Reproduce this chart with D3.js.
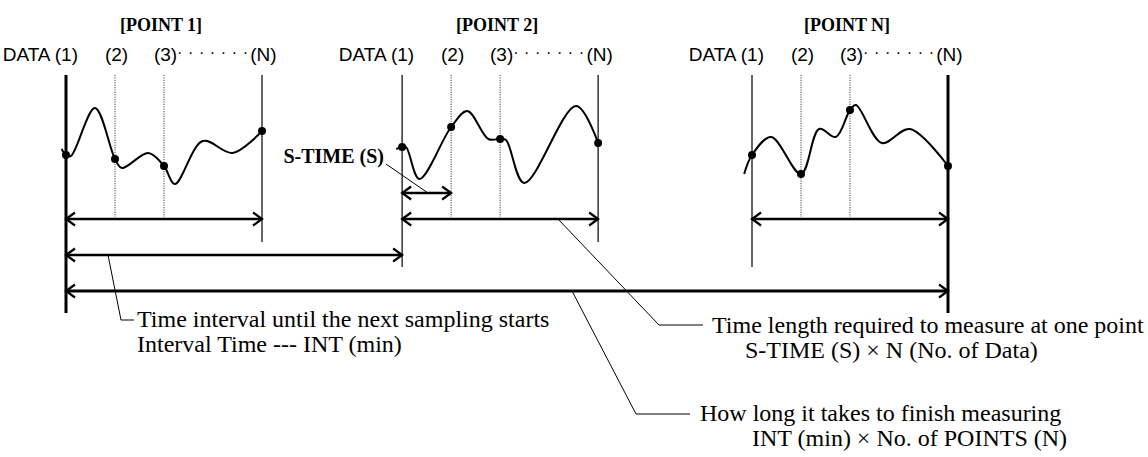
<!DOCTYPE html>
<html>
<head>
<meta charset="utf-8">
<script src="https://cdn.jsdelivr.net/npm/d3@7"></script>
<style>
    body { margin: 0; background: #fff; }
    .serif { font-family: "Liberation Serif", "Times New Roman", serif; }
    .narrow { font-family: "Liberation Sans Narrow", "Arial Narrow", "Liberation Sans", sans-serif; }
</style>
</head>
<body>
<script>
// points and where each one starts on the time axis (in S-TIME units)
const pointNames = ['[POINT 1]', '[POINT 2]', '[POINT N]'];
const pointStarts = [0, 6.86, 14];
const pointLength = 4;

// sample lines inside one point
const sampleLabels = ['(1)', '(2)', '(3)', '(N)'];
const sampleOffsets = [0, 1, 2, 4];

// waveforms: time offset inside the point, signal level
const wave1T = [-0.09, 0, 0.1, 0.59, 1.0, 1.14, 1.68, 2.0, 2.22, 2.79, 3.4, 4.0];
const wave1V = [5.1, 4.5, 4.4, 9.2, 4.1, 3.2, 4.7, 3.4, 1.6, 5.9, 4.7, 6.9];
const wave2T = [-0.12, 0, 0.08, 0.35, 1.0, 1.33, 1.76, 2.0, 2.12, 2.49, 3.55, 4.0];
const wave2V = [5.1, 5.3, 5.3, 2.1, 7.3, 8.9, 6.1, 6.1, 6.0, 1.7, 9.4, 5.7];
const waveNT = [-0.16, 0, 0.39, 1.0, 1.37, 1.71, 2.0, 2.12, 2.65, 3.22, 4.0];
const waveNV = [2.6, 4.5, 6.3, 2.6, 7.1, 6.3, 9.0, 9.5, 5.7, 7.1, 3.4];

// annotation texts
const intText = ['Time interval until the next sampling starts', 'Interval Time --- INT (min)'];
const pointText = ['Time length required to measure at one point', 'S-TIME (S) \u00d7 N (No. of Data)'];
const totalText = ['How long it takes to finish measuring', 'INT (min) \u00d7 No. of POINTS (N)'];

const waves = [
    { t: wave1T, v: wave1V },
    { t: wave2T, v: wave2V },
    { t: waveNT, v: waveNV }
];

const width = 1148, height = 457;

const svg = d3.select('body').append('svg')
    .attr('width', width)
    .attr('height', height);

// time axis -> pixels, level -> pixels
const x = d3.scaleLinear().domain([0, 18]).range([66, 948]);
const y = d3.scaleLinear().domain([0, 10]).range([200, 100]);

// arrowhead markers (open chevrons)
const defs = svg.append('defs');
defs.append('marker')
    .attr('id', 'head')
    .attr('viewBox', '-12 -8 14 16')
    .attr('refX', 0)
    .attr('refY', 0)
    .attr('markerUnits', 'userSpaceOnUse')
    .attr('markerWidth', 14)
    .attr('markerHeight', 16)
    .attr('orient', 'auto-start-reverse')
    .append('path')
    .attr('d', 'M-9,-6.5 L0,0 L-9,6.5')
    .attr('fill', 'none')
    .attr('stroke', '#000')
    .attr('stroke-width', 2.2);

// vertical sample lines for each point
pointStarts.forEach((start, i) => {
    const g = svg.append('g');
    sampleOffsets.forEach((off, k) => {
        const xx = x(start + off);
        const first = k === 0, last = k === sampleOffsets.length - 1;
        const outer = (i === 0 && first) || (i === pointStarts.length - 1 && last);
        let bottom = 217;
        if (outer) bottom = 313;
        else if (first) bottom = 267;
        else if (last) bottom = 242;
        g.append('line')
            .attr('x1', xx).attr('x2', xx)
            .attr('y1', 75).attr('y2', bottom)
            .attr('stroke', outer ? '#000' : (first || last ? '#333' : '#444'))
            .attr('stroke-width', outer ? 3 : (first || last ? 1.5 : 1))
            .attr('stroke-dasharray', first || last ? null : '1.2,1.2');
    });

    // point title
    svg.append('text')
        .attr('class', 'serif')
        .attr('x', x(start + pointLength / 2) - 3)
        .attr('y', 31)
        .attr('text-anchor', 'middle')
        .attr('font-weight', 'bold')
        .attr('font-size', 18)
        .text(pointNames[i]);

    // sample labels, "DATA (1)" ends just right of the first line
    sampleOffsets.forEach((off, k) => {
        const xx = x(start + off);
        svg.append('text')
            .attr('class', 'narrow')
            .attr('x', k === 0 ? xx + 12 : xx + 1.5)
            .attr('y', 61)
            .attr('text-anchor', k === 0 ? 'end' : 'middle')
            .attr('font-size', 19)
            .text(k === 0 ? 'DATA ' + sampleLabels[k] : sampleLabels[k]);
    });

    // dotted run between (3) and (N)
    const dotStart = x(start + sampleOffsets[2]) + 13;
    const dotEnd = x(start + sampleOffsets[3]) - 14;
    svg.append('text')
        .attr('class', 'narrow')
        .attr('x', dotStart)
        .attr('y', 58)
        .attr('font-size', 16)
        .attr('textLength', dotEnd - dotStart)
        .attr('lengthAdjust', 'spacing')
        .text('\u00b7\u00b7\u00b7\u00b7\u00b7\u00b7\u00b7');
});

// waveforms
const line = d3.line()
    .x(d => d.x)
    .y(d => d.y)
    .curve(d3.curveCatmullRom.alpha(0.5));

waves.forEach((w, i) => {
    const start = pointStarts[i];
    const pts = w.t.map((t, j) => ({ x: x(start + t), y: y(w.v[j]), t: t }));
    svg.append('path')
        .attr('d', line(pts))
        .attr('fill', 'none')
        .attr('stroke', '#000')
        .attr('stroke-width', 2);
    svg.append('g')
        .selectAll('circle')
        .data(pts.filter(p => sampleOffsets.includes(p.t)))
        .enter().append('circle')
        .attr('cx', d => d.x)
        .attr('cy', d => d.y)
        .attr('r', 4)
        .attr('fill', '#000');
});

// helper for double-headed arrows
function arrow(x1, x2, yy, w) {
    svg.append('line')
        .attr('x1', x1).attr('x2', x2)
        .attr('y1', yy).attr('y2', yy)
        .attr('stroke', '#000')
        .attr('stroke-width', w)
        .attr('marker-start', 'url(#head)')
        .attr('marker-end', 'url(#head)');
}

// one arrow per point (sampling length)
pointStarts.forEach(start => arrow(x(start), x(start + pointLength), 219, 2.5));
// S-TIME arrow under point 2
arrow(x(pointStarts[1]), x(pointStarts[1] + 1), 193, 2.5);
// interval arrow
arrow(x(pointStarts[0]), x(pointStarts[1]), 255, 2.5);
// total arrow
arrow(x(pointStarts[0]), x(pointStarts[2] + pointLength), 291, 3);

// leader lines
function leader(pts) {
    svg.append('polyline')
        .attr('points', pts.map(p => p.join(',')).join(' '))
        .attr('fill', 'none')
        .attr('stroke', '#000')
        .attr('stroke-width', 1);
}
leader([[386, 164], [428, 193]]);
leader([[108, 255], [121, 320], [134, 320]]);
leader([[558, 219], [659, 325], [703, 325]]);
leader([[572, 291], [636, 414], [690, 414]]);

// S-TIME label
svg.append('text')
    .attr('class', 'serif')
    .attr('x', 384)
    .attr('y', 163)
    .attr('text-anchor', 'end')
    .attr('font-weight', 'bold')
    .attr('font-size', 20)
    .text('S-TIME (S)');

// annotation blocks
function note(lines, xs, y0) {
    lines.forEach((t, i) => {
        svg.append('text')
            .attr('class', 'serif')
            .attr('x', xs[i])
            .attr('y', y0 + i * 25)
            .attr('font-size', 24)
            .text(t);
    });
}
note(intText, [137, 137], 327);
note(pointText, [712, 745], 333);
note(totalText, [700, 752], 421);
</script>
</body>
</html>
